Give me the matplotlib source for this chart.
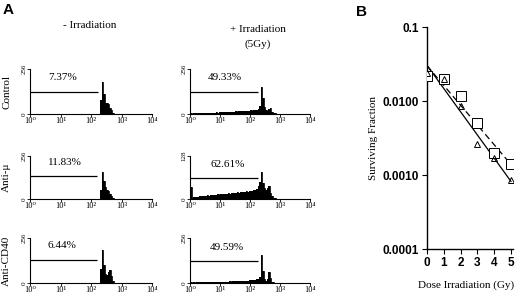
import numpy as np
import matplotlib
matplotlib.use("Agg")
import matplotlib.pyplot as plt

plt.rcParams['font.family'] = ['Liberation Serif', 'DejaVu Serif']

# ---- panel A data: histogram heights (channel counts), bins of 0.05 decade ----
bin_w = 0.05
row_names = ['Control', 'Anti-\u03bc', 'Anti-CD40']
ymax_left = [256, 256, 256]
ymax_right = [256, 128, 256]
pct_left = ['7.37%', '11.83%', '6.44%']
pct_right = ['49.33%', '62.61%', '49.59%']
decade_labels = ['10\u2070', '10\u00b9', '10\u00b2', '10\u00b3', '10\u2074']

# left column: only the region around the peak (start at 10^2.30)
left_start = 2.30
ctrl_left = [77, 182, 115, 64, 61, 56, 36, 20, 8]
mu_left = [51, 161, 108, 72, 56, 46, 31, 15, 5]
cd40_left = [77, 189, 102, 51, 46, 61, 72, 38, 10]

# right column: from 10^0 to 10^3
right_start = 0.0
ctrl_right = ([3, 2, 3, 4, 3, 4, 5, 4, 6, 5, 6, 7, 6, 7, 8, 7, 8, 9, 8, 9]
              + [10, 9, 11, 10, 12, 11, 13, 12, 14, 13, 15, 14, 16, 15, 17, 16, 18, 17, 19, 18]
              + [20, 19, 22, 21, 24, 28, 45, 154, 90, 40, 22, 18, 26, 34, 14, 6, 3, 2, 1, 1])
mu_right = ([36, 4, 5, 6, 6, 7, 8, 9, 8, 10, 9, 11, 10, 12, 11, 12, 13, 12, 14, 13]
            + [14, 15, 14, 16, 15, 17, 16, 18, 17, 19, 18, 20, 19, 21, 20, 22, 21, 23, 22, 24]
            + [25, 24, 27, 26, 30, 38, 50, 81, 48, 32, 28, 34, 38, 18, 8, 4, 2, 1, 1, 0])
cd40_right = ([3, 2, 3, 2, 3, 4, 3, 4, 3, 4, 5, 4, 5, 4, 5, 6, 5, 6, 5, 6]
              + [7, 6, 7, 8, 7, 8, 9, 8, 9, 10, 9, 11, 10, 12, 11, 13, 12, 14, 13, 15]
              + [16, 15, 18, 17, 20, 22, 35, 161, 70, 25, 12, 20, 61, 30, 8, 3, 2, 1, 0, 0])

gate_frac_left = [0.50, 0.53, 0.52]
gate_frac_right = [0.49, 0.49, 0.50]
gate_end_left = [2.23, 2.20, 2.20]
gate_end_right = [2.27, 2.27, 2.27]

# ---- panel B data ----
dose = [0, 1, 2, 3, 4, 5]
surv_square = [0.022, 0.020, 0.0117, 0.0050, 0.0020, 0.0014]
surv_triangle = [0.024, 0.020, 0.0085, 0.0026, 0.0017, 0.00085]

fig = plt.figure(figsize=(5.2, 2.97), dpi=100)
W, H = 520.0, 297.0


def px_axes(x0, y0, x1, y1):
    return fig.add_axes([x0 / W, 1 - y1 / H, (x1 - x0) / W, (y1 - y0) / H])


rows_px = [(69, 114), (156, 199), (238, 283)]
cols_px = [(30, 152), (190, 310)]
hists = [[ctrl_left, ctrl_right], [mu_left, mu_right], [cd40_left, cd40_right]]
starts = [left_start, right_start]
ymaxs = [ymax_left, ymax_right]
pcts = [pct_left, pct_right]
gfrac = [gate_frac_left, gate_frac_right]
gend = [gate_end_left, gate_end_right]
pct_pos = [[(0.27, 0.82), (0.29, 0.82)], [(0.29, 0.86), (0.31, 0.81)], [(0.26, 0.83), (0.31, 0.78)]]

for r, (y0, y1) in enumerate(rows_px):
    for c, (x0, x1) in enumerate(cols_px):
        ax = px_axes(x0, y0, x1, y1)
        h = np.array(hists[r][c], dtype=float)
        edges = 10 ** (starts[c] + bin_w * np.arange(len(h) + 1))
        ax.stairs(h, edges, fill=True, color='black', lw=0)
        ax.stairs(h, edges, color='black', lw=0.6)
        ax.set_xscale('log')
        ax.set_xlim(1, 1e4)
        ym = ymaxs[c][r]
        ax.set_ylim(0, ym)
        ax.hlines(gfrac[c][r] * ym, 1, 10 ** gend[c][r], color='black', lw=0.9)
        for s in ['top', 'right']:
            ax.spines[s].set_visible(False)
        for s in ['left', 'bottom']:
            ax.spines[s].set_linewidth(0.8)
        ax.set_yticks([0, ym])
        ax.set_yticklabels(['0', str(ym)], rotation=90, va='center', fontsize=5)
        ax.set_xticks([1, 10, 100, 1000, 10000])
        ax.set_xticklabels(decade_labels, fontsize=6)
        ax.tick_params(axis='both', which='major', length=2, width=0.6, pad=0.5)
        ax.tick_params(axis='x', which='minor', length=1.2, width=0.5)
        px_, py_ = pct_pos[r][c]
        ax.text(px_, py_, pcts[c][r], transform=ax.transAxes, ha='center', va='center', fontsize=8)
        if c == 0:
            ax.text(-0.19, 0.5, row_names[r], transform=ax.transAxes, rotation=90,
                    ha='center', va='center', fontsize=8)

fig.text(90 / W, 1 - 25 / H, '- Irradiation', ha='center', va='center', fontsize=8)
fig.text(258 / W, 1 - 30 / H, '+ Irradiation', ha='center', va='center', fontsize=8)
fig.text(258 / W, 1 - 44 / H, '(5Gy)', ha='center', va='center', fontsize=8)
fig.text(3 / W, 1 - 10 / H, 'A', ha='left', va='center', fontsize=11, fontweight='bold',
         family='Liberation Sans')
fig.text(356 / W, 1 - 12 / H, 'B', ha='left', va='center', fontsize=11, fontweight='bold',
         family='Liberation Sans')

# ---- panel B ----
axb = px_axes(427, 27, 513, 249)
axb.set_yscale('log')
axb.set_ylim(1e-4, 0.1)
axb.set_xlim(0, 5.12)
d = np.array(dose, dtype=float)
xs = np.array([0.0, 5.0])
k_sq = np.polyfit(d, np.log10(surv_square), 1)
k_tr = np.polyfit(d, np.log10(surv_triangle), 1)
axb.plot(xs, 10 ** np.polyval(k_sq, xs), color='black', lw=0.9, ls=(0, (5, 3)))
axb.plot(xs, 10 ** np.polyval(k_tr, xs), color='black', lw=0.9)
axb.plot(dose, surv_square, 's', ms=6.5, mfc='white', mec='black', mew=0.7, zorder=3)
axb.plot(dose, surv_triangle, '^', ms=5, mfc='none', mec='black', mew=0.7, zorder=4)
for s in ['top', 'right']:
    axb.spines[s].set_visible(False)
for s in ['left', 'bottom']:
    axb.spines[s].set_linewidth(1.0)
axb.set_yticks([1e-4, 1e-3, 1e-2, 1e-1])
axb.set_yticklabels(['0.0001', '0.0010', '0.0100', '0.1'])
axb.yaxis.set_minor_locator(matplotlib.ticker.NullLocator())
axb.set_xticks(dose)
for lab in axb.get_xticklabels() + axb.get_yticklabels():
    lab.set_family('Liberation Sans')
    lab.set_fontweight('bold')
    lab.set_fontsize(8.5)
axb.tick_params(axis='both', length=3.5, width=0.8, pad=2.5)
axb.set_ylabel('Surviving Fraction', fontsize=8, labelpad=3)
axb.set_xlabel('Dose Irradiation (Gy)', fontsize=8, labelpad=7)
axb.xaxis.set_label_coords(0.45, -0.14)

fig.savefig('out.png', dpi=100)
